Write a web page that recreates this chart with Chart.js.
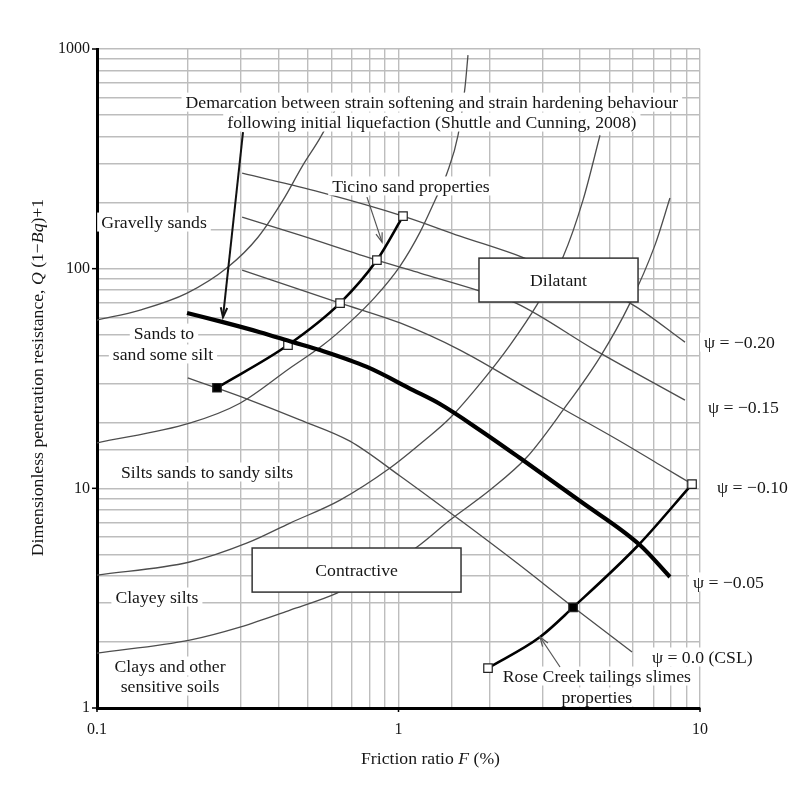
<!DOCTYPE html>
<html>
<head>
<meta charset="utf-8">
<script src="https://cdn.jsdelivr.net/npm/chart.js@4.4.0/dist/chart.umd.min.js"></script>
<style>
  html, body { margin: 0; padding: 0; background: #fff; }
  #wrap { width: 804px; height: 810px; }
</style>
</head>
<body>
<div id="wrap"><canvas id="chart"></canvas></div>
<script>
// Friction ratio F (%) on x, Q(1-Bq)+1 on y, both log scale
// all curves as [F, Q] pairs

// soil behaviour type boundaries
const gravelSandEdge = [[0.1,58.3],[0.139,64.8],[0.199,77.4],[0.272,101.7],[0.342,139],[0.414,205],[0.482,296],[0.549,393],[0.616,527]];
const sandSiltEdge = [[0.1,16.1],[0.203,19.8],[0.298,24.4],[0.437,35.3],[0.562,44.9],[0.690,57.1],[0.836,74.2],[1.012,102.8],[1.179,146.7],[1.322,205],[1.448,272],[1.576,405],[1.662,671],[1.700,938]];
const clayeySiltEdge = [[0.1,4.03],[0.203,4.62],[0.315,5.64],[0.437,6.95],[0.640,8.84],[0.937,12.37],[1.224,16.6],[1.482,20.9],[1.907,31.1],[2.344,44.9],[2.902,69.7],[3.513,112.9],[4.092,205],[4.66,405]];
const clayEdge = [[0.1,1.779],[0.203,2.039],[0.298,2.337],[0.437,2.793],[0.625,3.337],[0.868,4.247],[1.152,5.406],[1.482,7.172],[2.011,9.82],[2.668,13.88],[3.513,22.7],[4.66,39.6],[5.86,69.7],[7.09,128],[7.95,209.6]];

// state parameter contours
const psi020 = [[0.303,272],[0.549,223],[1.035,173.5],[1.600,140.7],[2.568,112.9],[5.86,69.7],[8.917,46.3]];
const psi015 = [[0.303,171.8],[0.471,142.2],[0.848,109.4],[1.179,95.5],[1.864,79.1],[2.453,69.7],[4.485,42.6],[8.917,25.2]];
const psi010 = [[0.303,98.5],[0.640,69.7],[1.012,56.6],[1.600,42.6],[2.398,31.1],[3.434,23.4],[5.346,16.6],[7.37,12.77],[9.41,10.46]];
const csl = [[0.200,31.8],[0.250,28.6],[0.315,25.5],[0.471,20.5],[0.690,16.4],[1.012,11.38],[1.600,7.17],[2.472,4.57],[3.793,2.883],[5.95,1.798]];

// Shuttle and Cunning (2008) demarcation
const demarcation = [[0.1989,62.8],[0.2617,57.1],[0.347,51.4],[0.447,46.3],[0.549,42.6],[0.786,35.7],[1.117,28.0],[1.373,24.2],[1.864,18.4],[2.529,13.74],[4.0,8.75],[6.32,5.52],[7.95,3.95]];

// material property curves
const ticino = [[0.250,28.7],[0.430,44.9],[0.640,69.7],[0.848,109.4],[1.035,173.5]];
const ticinoMarks = ['filled','open','open','open','open'];
const roseCreek = [[1.981,1.52],[2.947,2.105],[3.793,2.87],[6.25,5.52],[9.41,10.46]];
const roseCreekMarks = ['open','','filled','','open'];

const xTickLabels = [0.1, 1, 10];
const yTickLabels = [1, 10, 100, 1000];

// annotations (anchored in data coords)
const notes = [
  { text: 'Demarcation between strain softening and strain hardening behaviour', F: 1.29, Q: 573 },
  { text: 'following initial liquefaction (Shuttle and Cunning, 2008)', F: 1.29, Q: 465 },
  { text: 'Ticino sand properties', F: 1.10, Q: 238 },
  { text: 'Gravelly sands', F: 0.1545, Q: 163 },
  { text: 'Sands to', F: 0.1668, Q: 50.9 },
  { text: 'sand some silt', F: 0.1655, Q: 40.9 },
  { text: 'Silts sands to sandy silts', F: 0.2317, Q: 11.87 },
  { text: 'Clayey silts', F: 0.158, Q: 3.20 },
  { text: 'Clays and other', F: 0.1747, Q: 1.553 },
  { text: 'sensitive soils', F: 0.1747, Q: 1.259 },
  { text: 'ψ = −0.20', F: 10.31, Q: 46.3, align: 'left' },
  { text: 'ψ = −0.15', F: 10.63, Q: 23.4, align: 'left' },
  { text: 'ψ = −0.10', F: 11.39, Q: 10.14, align: 'left' },
  { text: 'ψ = −0.05', F: 9.48, Q: 3.75, align: 'left' },
  { text: 'ψ = 0.0 (CSL)', F: 6.93, Q: 1.707, align: 'left' },
  { text: 'Rose Creek tailings slimes', F: 4.55, Q: 1.398 },
  { text: 'properties', F: 4.55, Q: 1.122 }
];
const zones = [
  { text: 'Dilatant', F: [1.849, 6.23], Q: [111.7, 70.5] },
  { text: 'Contractive', F: [0.327, 1.612], Q: [5.35, 3.37] }
];
const pointers = [
  { from: [0.305, 418.6], to: [0.2617, 60.2], heavy: true },
  { from: [0.786, 211.8], to: [0.882, 132] },
  { from: [3.434, 1.537], to: [2.947, 2.105] }
];

const SERIF = "'Liberation Serif', 'DejaVu Serif', serif";
const FONT = '17.7px ' + SERIF;
const INK = '#161616';

function toXY(pairs) {
  return pairs.map(p => ({ x: p[0], y: p[1] }));
}

function thinCurve(pairs) {
  return {
    data: toXY(pairs),
    borderColor: '#4d4d4d',
    borderWidth: 1.3,
    pointRadius: 0,
    cubicInterpolationMode: 'monotone',
    fill: false
  };
}

function markedCurve(pairs, marks, width) {
  return {
    data: toXY(pairs),
    borderColor: '#000',
    borderWidth: width,
    cubicInterpolationMode: 'monotone',
    fill: false,
    pointStyle: 'rect',
    pointRadius: marks.map(m => m ? 6 : 0),
    pointBackgroundColor: marks.map(m => m === 'filled' ? '#000' : '#fff'),
    pointBorderColor: '#222',
    pointBorderWidth: 1.2
  };
}

function isDecade(v) {
  const l = Math.log10(v);
  return Math.abs(l - Math.round(l)) < 1e-9;
}

function drawArrow(ctx, x1, y1, x2, y2) {
  ctx.beginPath();
  ctx.moveTo(x1, y1);
  ctx.lineTo(x2, y2);
  ctx.stroke();
  const a = Math.atan2(y2 - y1, x2 - x1);
  const len = 10, spread = 0.33;
  ctx.beginPath();
  ctx.moveTo(x2 - len * Math.cos(a - spread), y2 - len * Math.sin(a - spread));
  ctx.lineTo(x2, y2);
  ctx.lineTo(x2 - len * Math.cos(a + spread), y2 - len * Math.sin(a + spread));
  ctx.stroke();
}

// draws mixed upright/italic pieces centred on 0,0
function drawRuns(ctx, runs) {
  let total = 0;
  runs.forEach(r => {
    ctx.font = (r[1] ? 'italic ' : '') + FONT;
    total += ctx.measureText(r[0]).width;
  });
  let cur = -total / 2;
  ctx.textAlign = 'left';
  runs.forEach(r => {
    ctx.font = (r[1] ? 'italic ' : '') + FONT;
    ctx.fillText(r[0], cur, 0);
    cur += ctx.measureText(r[0]).width;
  });
}

const annotate = {
  id: 'annotate',
  afterDatasetsDraw(chart) {
    const { ctx, chartArea } = chart;
    const sx = chart.scales.x, sy = chart.scales.y;
    const px = f => sx.getPixelForValue(f);
    const py = q => sy.getPixelForValue(q);
    ctx.save();

    // region boxes
    zones.forEach(z => {
      const l = px(z.F[0]), r = px(z.F[1]), t = py(z.Q[0]), b = py(z.Q[1]);
      ctx.fillStyle = '#fff';
      ctx.fillRect(l, t, r - l, b - t);
      ctx.strokeStyle = '#333';
      ctx.lineWidth = 1.5;
      ctx.strokeRect(l, t, r - l, b - t);
      ctx.fillStyle = INK;
      ctx.font = FONT;
      ctx.textAlign = 'center';
      ctx.textBaseline = 'middle';
      ctx.fillText(z.text, (l + r) / 2, (t + b) / 2 + 1);
    });

    // white backing behind notes, then the text
    ctx.font = FONT;
    ctx.textBaseline = 'middle';
    const placed = notes.map(n => {
      const w = ctx.measureText(n.text).width;
      const cx = px(n.F), cy = py(n.Q);
      const left = n.align === 'left' ? cx : cx - w / 2;
      return { n, w, left, cy };
    });
    ctx.fillStyle = '#fff';
    placed.forEach(p => ctx.fillRect(p.left - 4, p.cy - 9.5, p.w + 8, 19));
    ctx.fillStyle = INK;
    ctx.textAlign = 'left';
    placed.forEach(p => ctx.fillText(p.n.text, p.left, p.cy + 1));

    // leader arrows
    pointers.forEach(a => {
      ctx.strokeStyle = a.heavy ? '#111' : '#555';
      ctx.lineWidth = a.heavy ? 2 : 1.2;
      drawArrow(ctx, px(a.from[0]), py(a.from[1]), px(a.to[0]), py(a.to[1]));
    });

    // short decade ticks
    ctx.strokeStyle = '#000';
    ctx.lineWidth = 1.5;
    yTickLabels.forEach(v => {
      const yy = py(v);
      ctx.beginPath(); ctx.moveTo(chartArea.left - 5, yy); ctx.lineTo(chartArea.left, yy); ctx.stroke();
    });
    xTickLabels.forEach(v => {
      const xx = px(v);
      ctx.beginPath(); ctx.moveTo(xx, chartArea.bottom); ctx.lineTo(xx, chartArea.bottom + 4); ctx.stroke();
    });

    // axis titles
    ctx.fillStyle = INK;
    ctx.textBaseline = 'middle';
    ctx.save();
    ctx.translate((chartArea.left + chartArea.right) / 2 + 32, chartArea.bottom + 51);
    drawRuns(ctx, [['Friction ratio ', false], ['F', true], [' (%)', false]]);
    ctx.restore();
    ctx.save();
    ctx.translate(chartArea.left - 59, (chartArea.top + chartArea.bottom) / 2 - 1);
    ctx.rotate(-Math.PI / 2);
    drawRuns(ctx, [['Dimensionless penetration resistance, ', false], ['Q', true], [' (1−', false], ['Bq', true], [')+1', false]]);
    ctx.restore();

    ctx.restore();
  }
};

new Chart(document.getElementById('chart'), {
  type: 'line',
  data: {
    datasets: [
      markedCurve(demarcation, demarcation.map(() => ''), 4.2),
      markedCurve(ticino, ticinoMarks, 2.6),
      markedCurve(roseCreek, roseCreekMarks, 2.6),
      thinCurve(psi020),
      thinCurve(psi015),
      thinCurve(psi010),
      thinCurve(csl),
      thinCurve(gravelSandEdge),
      thinCurve(sandSiltEdge),
      thinCurve(clayeySiltEdge),
      thinCurve(clayEdge)
    ]
  },
  options: {
    responsive: true,
    maintainAspectRatio: false,
    animation: false,
    layout: { padding: { left: 37, right: 104, top: 49, bottom: 62 } },
    plugins: {
      legend: { display: false },
      tooltip: { enabled: false }
    },
    scales: {
      x: {
        type: 'logarithmic',
        min: 0.1,
        max: 10,
        grid: { color: '#bdbdbd', lineWidth: 1.4, drawTicks: false },
        border: { color: '#000', width: 3 },
        ticks: {
          autoSkip: false,
          maxRotation: 0,
          padding: 12,
          color: INK,
          font: { family: SERIF, size: 16 },
          callback: v => (isDecade(v) && xTickLabels.includes(Number(v.toPrecision(3)))) ? String(Number(v.toPrecision(3))) : ''
        },
        afterFit: s => { s.height = 40; }
      },
      y: {
        type: 'logarithmic',
        min: 1,
        max: 1000,
        grid: { color: '#bdbdbd', lineWidth: 1.4, drawTicks: false },
        border: { color: '#000', width: 3 },
        ticks: {
          autoSkip: false,
          padding: 7,
          color: INK,
          font: { family: SERIF, size: 16 },
          callback: v => isDecade(v) ? String(Math.round(v)) : ''
        },
        afterFit: s => { s.width = 60; }
      }
    }
  },
  plugins: [annotate]
});
</script>
</body>
</html>
